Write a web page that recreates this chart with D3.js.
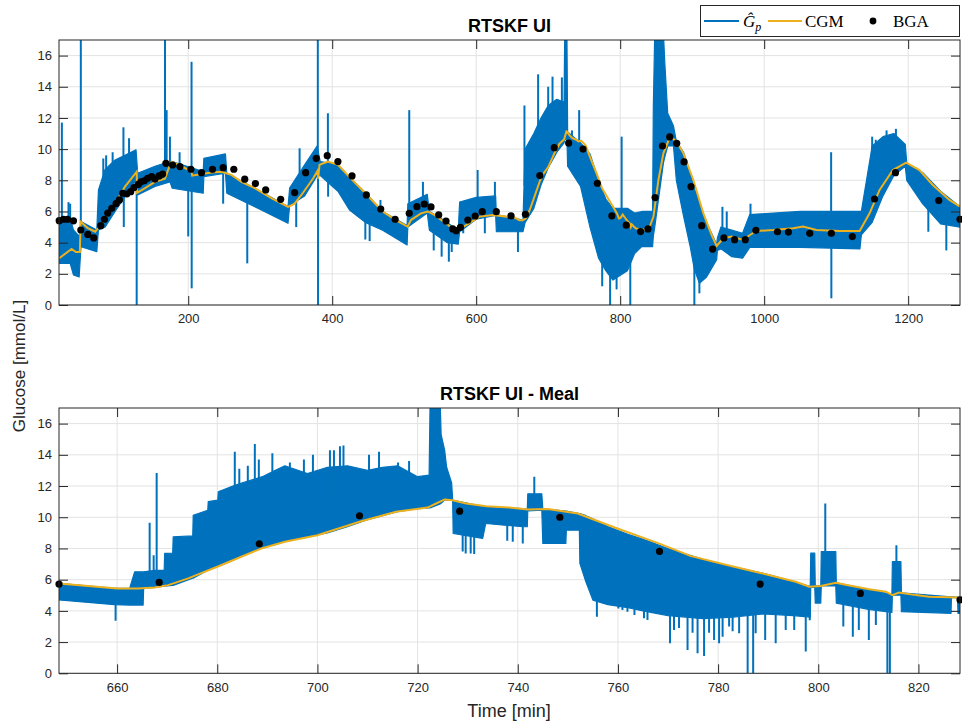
<!DOCTYPE html>
<html><head><meta charset="utf-8">
<script src="https://cdn.jsdelivr.net/npm/d3@7"></script>
<style>body{margin:0;background:#fff}text{font-family:"Liberation Sans",Arial,sans-serif}</style>
</head><body><svg id="c" width="962" height="724"></svg>
<script>
// ---------- DATA ----------
// CGM trace [time (min), glucose (mmol/L)]
const cgm = [[20.8,3.0],[38,3.6],[44,3.4],[49.5,3.4],[50.5,5.35],[60,4.95],[70.7,4.7],[79.9,5.2],[90,5.9],[98.4,6.5],[112.2,7.6],[128.4,8.55],[129,7.2],[140,7.5],[153.8,7.9],[167.7,8.1],[172.3,8.7],[176.9,9.2],[190.8,8.9],[204.6,8.55],[205.5,8.3],[218.5,8.4],[232.3,8.5],[246.2,8.55],[260,8.35],[273.9,7.9],[292.4,7.5],[315.5,6.85],[338.6,6.3],[347.8,6.5],[359.4,7.2],[373.2,8.1],[379.5,8.6],[380.5,8.1],[382.4,9.0],[394,9.2],[407.9,9.0],[424,8.2],[446,7.17],[470,6.0],[488.4,5.45],[504.7,5.03],[509.3,5.45],[523.3,5.88],[532.6,6.0],[541.9,5.78],[558.1,5.24],[572.1,4.7],[586,5.13],[604.7,5.67],[623.3,5.78],[641.9,5.67],[648.3,5.76],[654.2,5.59],[660,5.44],[664.2,5.44],[667.5,5.5],[670.2,5.65],[674.2,6.08],[680,6.83],[684.8,7.47],[688.8,8.0],[693.5,8.43],[700,8.85],[708.4,9.71],[715.7,10.35],[722,10.62],[723.7,10.88],[725.4,11.14],[727,11.09],[729.7,10.88],[733.7,10.7],[738.3,10.62],[742,10.5],[746,10.53],[752,10.24],[754.6,9.92],[759.9,9.28],[767.9,8.36],[774.6,7.51],[783.2,6.83],[788.9,6.4],[795.5,5.87],[798.2,5.55],[800.5,5.59],[803.5,5.8],[806.2,5.63],[810.2,5.38],[813.5,5.23],[814.8,5.01],[816.1,5.17],[819.5,5.01],[822.1,4.91],[828.1,4.86],[839.3,4.81],[846.2,5.67],[853.1,8.02],[860,9.73],[869.3,10.8],[878.5,10.48],[887.8,9.73],[901.6,8.02],[915.5,5.88],[927,4.49],[934,3.79],[943.2,4.28],[954.7,4.39],[970.9,4.17],[980.1,4.49],[989.4,4.75],[1012.5,4.81],[1040.2,4.92],[1054,5.03],[1072.5,4.81],[1104.9,4.75],[1132.6,4.75],[1146.4,5.88],[1160.3,7.38],[1178.8,8.66],[1197.2,9.13],[1215.7,8.66],[1234.2,7.7],[1257.3,6.74],[1272,6.31]];

// BGA samples [time, glucose]
const bga = [[20.8,5.41],[26.8,5.5],[32.3,5.5],[40.6,5.4],[50.8,4.81],[60.5,4.53],[68.8,4.3],[78.5,5.09],[83.6,5.5],[88.2,5.9],[93.8,6.2],[99.8,6.5],[104.4,6.74],[109,7.17],[114.5,7.12],[120.1,7.27],[124.7,7.53],[130.7,7.74],[134.4,7.9],[139,7.97],[143.6,8.13],[149.2,8.24],[153.8,8.08],[159.4,8.28],[164.4,8.4],[169,9.09],[178.3,8.98],[188.5,8.88],[203.7,8.71],[218.5,8.49],[233.7,8.71],[248.5,8.81],[263.3,8.71],[278.5,8.07],[293.3,7.79],[307.6,7.38],[328.4,6.78],[347.8,7.21],[363.1,8.49],[377.8,9.41],[393.1,9.58],[407.9,9.2],[427.5,8.28],[447.4,7.06],[467.4,6.16],[487.4,5.5],[507,5.88],[517.7,6.31],[527.9,6.48],[537.2,6.29],[547.9,5.78],[558.1,5.39],[567.4,4.88],[572.1,4.77],[578.1,4.98],[588.4,5.45],[598.6,5.71],[608.4,5.99],[627.9,5.99],[648.4,5.72],[668.4,5.82],[688.4,8.3],[708.4,10.09],[728.4,10.39],[748.4,10.0],[768.3,7.81],[788.4,5.72],[808.4,5.12],[828.3,4.71],[838.6,4.88],[848.5,6.89],[858.7,10.2],[868.8,10.78],[878.5,10.37],[888.7,9.18],[898.4,7.6],[913.2,5.09],[928.4,3.59],[944.1,4.3],[958.9,4.19],[973.7,4.19],[988.5,4.79],[1018.5,4.7],[1033.7,4.68],[1063.3,4.6],[1093.3,4.6],[1122.4,4.39],[1153.3,6.8],[1182.4,8.49],[1242.5,6.7],[1272,5.5]];

// G_p estimate, full run: envelope [time, low, high]
const gpTopBand = [[20.8,2.67,5.45],[36,2.67,5.56],[40.6,1.93,4.81],[48.5,1.8,4.4],[51,3.74,5.35],[73,3.42,4.81],[75.3,4.81,7.38],[84.5,5.0,8.7],[98.4,6.0,9.3],[112,6.95,9.6],[127.5,8.0,9.95],[129.8,7.06,8.45],[153.8,7.6,8.9],[174.6,7.9,9.2],[177.8,7.49,9.2],[220.8,7.17,8.56],[221.7,8.24,9.41],[251.7,8.45,9.69],[253.6,7.17,8.45],[292.4,6.31,7.49],[338.6,5.24,6.31],[340.9,6.4,7.5],[361.7,7.0,9.0],[379,8.3,10.2],[383.4,8.3,9.2],[407.9,7.3,9.0],[424,6.1,8.2],[446,5.3,7.2],[470,4.8,6.0],[504,3.85,5.1],[505,5.0,6.5],[532,5.9,7.1],[535,4.8,6.0],[560,4.0,5.3],[575,3.9,4.75],[577,4.7,6.6],[600,5.5,6.9],[627,5.75,7.0],[628,4.7,5.8],[665,4.7,5.45],[668,5.3,10.0],[680,6.2,11.0],[690,7.7,12.0],[700,8.8,12.8],[712,9.8,13.2],[722,10.4,13.0],[723,10.6,17.5],[726,10.7,17.5],[727,8.9,11.1],[745,7.6,10.4],[758,5.0,9.7],[770,3.0,8.0],[780,2.2,6.8],[790,1.6,6.2],[810,2.2,6.2],[820,3.3,5.9],[830,3.75,6.0],[845,3.75,6.0],[846,4.4,12.6],[848,5.0,17.5],[860,9.1,17.5],[862,9.5,15.5],[866,10.2,12.3],[874,10.2,11.5],[878,8.0,10.5],[888,5.7,9.8],[897,3.8,8.5],[903,2.3,7.5],[910,1.4,6.6],[920,1.8,5.3],[934,2.9,3.9],[935,3.5,4.3],[940,3.6,5.0],[955,3.1,4.8],[970,3.0,4.6],[980,3.7,5.8],[1050,3.7,6.0],[1133,3.6,6.0],[1135,4.5,6.0],[1150,5.3,10.2],[1165,7.0,10.8],[1180,8.3,11.0],[1196,8.9,10.3],[1198,8.0,9.1],[1220,6.5,8.5],[1245,5.2,7.3],[1272,5.0,6.3]];
// G_p isolated excursions, full run [time, tip value]
const gpTopSpikes = [[24.5,11.7],[33.7,6.6],[36,6.5],[50.8,17.5],[82,9.4],[86,9.6],[95,9.8],[110,11.4],[110.5,5.0],[117.8,10.7],[128.4,0],[167.7,17.5],[170,12.5],[174.6,10.8],[188,9.8],[200,4.4],[204.6,15.6],[204.8,1.07],[248.5,6.5],[282,2.67],[350,5.0],[354.7,10.05],[380,17.5],[380.3,0],[394,12.3],[394.3,6.95],[446,4.2],[452,4.1],[467,6.74],[507,12.5],[526,7.9],[541,3.5],[552,3.1],[562,2.78],[566,3.4],[582,4.6],[602,8.66],[612,4.6],[626,7.9],[658,3.4],[667,12.8],[686,14.8],[700,14.0],[706,14.65],[719,14.6],[733,11.2],[743,12.5],[775,1.2],[786,0],[795,1.0],[802,10.8],[814,0],[903,0],[910,0.75],[942,6.3],[948,6.0],[981,6.5],[1093,9.8],[1093.3,0.43],[1150,10.8],[1155,10.6],[1170,11.2],[1183,11.3],[1228,4.7],[1253,3.5]];

// G_p estimate, meal window: envelope [time, low, high]
const gpMealBand = [[648.4,4.7,5.76],[659.5,4.4,5.45],[662.5,4.37,5.44],[663.5,4.37,6.5],[665.2,4.37,6.5],[665.3,5.44,6.5],[667.5,5.5,6.6],[669.4,5.58,6.6],[669.5,5.58,7.68],[671.1,5.63,7.7],[671.2,5.63,8.75],[675.1,6.1,8.8],[675.2,6.1,10.13],[678.1,6.6,10.45],[678.2,6.6,11.0],[680.1,6.85,11.1],[680.2,6.85,11.63],[683.5,7.3,12.05],[685,7.55,12.2],[689,8.05,12.6],[691.5,8.25,13.0],[693.5,8.43,13.3],[698,8.75,12.8],[702,9.0,13.2],[706,9.4,13.3],[710,9.85,13.0],[713,10.1,13.2],[716,10.35,13.3],[720,10.55,12.6],[722.3,10.6,12.7],[722.5,10.6,17.5],[724.5,10.85,17.5],[724.7,10.9,15.3],[725.4,11.1,14.3],[725.8,11.1,13.2],[726.8,11.1,12.2],[727.0,11.05,11.1],[727.1,8.96,11.09],[733,8.64,10.7],[733.6,9.6,10.68],[741,9.39,10.55],[741.9,9.39,10.5],[742,10.4,11.5],[744.8,10.45,11.5],[745,8.32,10.53],[749.6,8.32,10.4],[749.7,9.17,10.4],[752.3,9.17,10.24],[752.4,7.04,10.24],[753.6,5.87,10.1],[755,4.69,9.9],[758,4.4,9.4],[762,4.2,8.9],[765,4.0,8.6],[770,3.7,8.0],[777,3.5,7.3],[783,3.6,6.83],[789,3.8,6.4],[795,3.7,5.9],[798.4,3.6,5.55],[798.5,5.5,7.7],[799.3,5.5,7.7],[799.4,4.5,5.6],[800.5,4.5,5.6],[800.6,5.6,7.8],[803.5,5.6,7.8],[803.6,4.5,5.8],[810,4.1,5.38],[814.7,3.9,5.05],[814.8,5.0,7.15],[816.5,5.0,7.15],[816.6,3.95,5.15],[826.5,3.84,4.9],[826.6,4.84,4.9],[827.8,4.84,4.88],[827.9,3.84,4.86],[828.3,3.84,4.86]];
// G_p excursions, meal window [time, tip value]
const gpMealSpikes = [[659.7,3.37],[666.5,9.64],[667.3,7.57],[667.9,12.84],[680.7,11.7],[683.5,14.2],[684.4,13.1],[686.1,13.3],[687.5,14.7],[688.3,13.7],[691,14.1],[694.5,13.5],[697.3,13.7],[699.1,14.0],[702.5,14.3],[703.3,14.3],[704.5,14.55],[705.2,14.6],[710.3,14.0],[712.3,14.2],[716.1,13.5],[718.3,13.6],[729,7.8],[729.6,7.68],[730.6,7.68],[731.3,7.64],[737.9,8.5],[739,8.43],[741,8.32],[743.3,12.6],[755.8,3.63],[756.6,4.6],[757.9,4.5],[760.1,4.16],[760.9,4.05],[761.9,3.95],[763.3,3.73],[765.2,3.52],[765.9,3.41],[767.9,3.9],[770.4,1.92],[771.2,2.77],[772.2,2.9],[773.9,1.49],[774.9,2.6],[775.9,1.28],[777.2,1.11],[778.2,2.6],[779.2,2.13],[780.2,1.92],[780.9,2.35],[782.2,3.0],[782.9,2.7],[784.2,2.56],[785.9,0],[787,0],[787.5,2.56],[789.4,2.13],[791.5,1.92],[793.5,2.77],[795.2,2.77],[797.5,1.39],[798.3,3.4],[801.4,10.88],[805,3.0],[806.9,2.35],[808.1,2.77],[810.1,2.13],[811.5,3.1],[813.8,0],[814.3,0],[815.6,8.2]];

const yTicks = [0,2,4,6,8,10,12,14,16];
const xTicksTop = [200,400,600,800,1000,1200];
const xTicksMeal = [660,680,700,720,740,760,780,800,820];
const titles = ["RTSKF UI","RTSKF UI - Meal"];
const legendLabels = ["CGM","BGA"];

// ---------- DRAWING ----------
const BLUE="#0072BD", YEL="#EDB120", AX="#262626", GRID="#e3e3e3";
const svg = d3.select("#c");
const defs = svg.append("defs");
const L=59, R=960;

function panel(name, xd, y0, y1, xt, band, spikes, title){
  const x = d3.scaleLinear().domain(xd).range([L,R]);
  const y = d3.scaleLinear().domain([0,17]).range([y1,y0]);
  defs.append("clipPath").attr("id","cl"+name).append("rect")
    .attr("x",L).attr("y",y0).attr("width",R-L).attr("height",y1-y0);
  const g = svg.append("g");
  g.append("g").selectAll("line").data(xt).join("line")
    .attr("x1",d=>x(d)).attr("x2",d=>x(d)).attr("y1",y0).attr("y2",y1)
    .attr("stroke",GRID).attr("stroke-width",1);
  g.append("g").selectAll("line").data(yTicks).join("line")
    .attr("y1",d=>y(d)).attr("y2",d=>y(d)).attr("x1",L).attr("x2",R)
    .attr("stroke",GRID).attr("stroke-width",1);
  const dg = g.append("g").attr("clip-path",`url(#cl${name})`);
  dg.append("path").datum(band)
    .attr("d", d3.area().x(d=>x(d[0])).y0(d=>y(d[1])).y1(d=>y(d[2])))
    .attr("fill",BLUE).attr("stroke",BLUE).attr("stroke-width",1.2).attr("stroke-linejoin","round");
  const bt = band.map(d=>d[0]);
  const baseAt = t => { let i = d3.bisectLeft(bt,t); i = Math.max(0,Math.min(band.length-1,i)); return (band[i][1]+band[i][2])/2; };
  dg.append("g").selectAll("line").data(spikes).join("line")
    .attr("x1",d=>x(d[0])).attr("x2",d=>x(d[0]))
    .attr("y1",d=>y(baseAt(d[0]))).attr("y2",d=>y(d[1]))
    .attr("stroke",BLUE).attr("stroke-width",2);
  dg.append("path").datum(cgm.filter(d=>d[0]>=xd[0]-15 && d[0]<=xd[1]+15))
    .attr("d", d3.line().x(d=>x(d[0])).y(d=>y(d[1])))
    .attr("fill","none").attr("stroke",YEL).attr("stroke-width",2);
  g.append("g").selectAll("circle").data(bga.filter(d=>d[0]>=xd[0]-1 && d[0]<=xd[1]+1)).join("circle")
    .attr("cx",d=>x(d[0])).attr("cy",d=>y(d[1])).attr("r",3.6).attr("fill","#000");
  const fmt = g => g.call(s=>s.select(".domain").remove())
      .call(s=>s.selectAll("line").attr("stroke",AX))
      .call(s=>s.selectAll("text").attr("fill",AX).style("font-size","13px").style("font-family","'Liberation Sans',Arial,sans-serif"));
  g.append("g").attr("transform",`translate(0,${y1})`)
    .call(d3.axisBottom(x).tickValues(xt).tickFormat(d3.format("d")).tickSizeInner(-9).tickSizeOuter(0).tickPadding(9)).call(fmt);
  g.append("g").attr("transform",`translate(0,${y0})`)
    .call(d3.axisTop(x).tickValues(xt).tickSizeInner(-9).tickSizeOuter(0).tickFormat("")).call(fmt);
  g.append("g").attr("transform",`translate(${L},0)`)
    .call(d3.axisLeft(y).tickValues(yTicks).tickFormat(d3.format("d")).tickSizeInner(-9).tickSizeOuter(0).tickPadding(7)).call(fmt);
  g.append("g").attr("transform",`translate(${R},0)`)
    .call(d3.axisRight(y).tickValues(yTicks).tickSizeInner(-9).tickSizeOuter(0).tickFormat("")).call(fmt);
  g.append("rect").attr("x",L).attr("y",y0).attr("width",R-L).attr("height",y1-y0)
    .attr("fill","none").attr("stroke",AX).attr("stroke-width",1);
  svg.append("text").attr("x",(L+R)/2).attr("y",y0-8).attr("text-anchor","middle")
    .style("font-weight","bold").style("font-size","18px").attr("fill","#000").text(title);
}

panel("top",[20.5,1272],40,305,xTicksTop,gpTopBand,gpTopSpikes,titles[0]);
panel("meal",[648.4,828.3],408,673.3,xTicksMeal,gpMealBand,gpMealSpikes,titles[1]);

svg.append("text").attr("transform","translate(25,366) rotate(-90)").attr("text-anchor","middle")
  .style("font-size","17px").attr("fill",AX).text("Glucose [mmol/L]");
svg.append("text").attr("x",509).attr("y",717).attr("text-anchor","middle")
  .style("font-size","18px").attr("fill",AX).text("Time [min]");

const lg = svg.append("g");
lg.append("rect").attr("x",700.5).attr("y",5.5).attr("width",259).attr("height",31)
  .attr("fill","#fff").attr("stroke",AX).attr("stroke-width",1);
lg.append("line").attr("x1",704).attr("x2",739).attr("y1",21).attr("y2",21).attr("stroke",BLUE).attr("stroke-width",2);
const gt = lg.append("text").attr("x",743).attr("y",27).style("font-family","'Liberation Serif','Times New Roman',serif").style("font-size","17px").attr("fill","#000");
gt.append("tspan").style("font-style","italic").text("\u011C");
gt.append("tspan").style("font-style","italic").style("font-size","12px").attr("dy",4).text("p");
lg.append("line").attr("x1",768).attr("x2",802).attr("y1",21).attr("y2",21).attr("stroke",YEL).attr("stroke-width",2);
lg.append("text").attr("x",805).attr("y",27).style("font-family","'Liberation Serif','Times New Roman',serif").style("font-size","17px").attr("fill","#000").text(legendLabels[0]);
lg.append("circle").attr("cx",873).attr("cy",21).attr("r",3.4).attr("fill","#000");
lg.append("text").attr("x",893).attr("y",27).style("font-family","'Liberation Serif','Times New Roman',serif").style("font-size","17px").attr("fill","#000").text(legendLabels[1]);
</script></body></html>
